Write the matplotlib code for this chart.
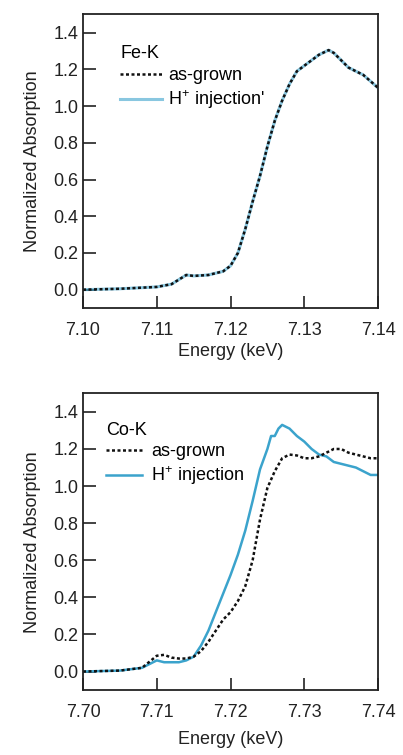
import numpy as np
import matplotlib
matplotlib.use("Agg")
import matplotlib.pyplot as plt

plt.rcParams['font.family'] = ['Liberation Sans', 'DejaVu Sans']
plt.rcParams['mathtext.fontset'] = 'custom'
plt.rcParams['mathtext.rm'] = 'Liberation Sans'

# ---- Fe-K edge (both curves overlap) ----
fe_energy = [7.100, 7.105, 7.110, 7.112, 7.114, 7.115, 7.117, 7.119, 7.120,
             7.121, 7.122, 7.123, 7.124, 7.125, 7.126, 7.127, 7.128, 7.129,
             7.130, 7.131, 7.132, 7.1333, 7.134, 7.135, 7.136, 7.138, 7.140]
fe_grown = [0.00, 0.005, 0.015, 0.03, 0.08, 0.075, 0.08, 0.10, 0.13,
            0.20, 0.33, 0.48, 0.62, 0.78, 0.92, 1.03, 1.12, 1.19,
            1.22, 1.25, 1.28, 1.305, 1.29, 1.25, 1.21, 1.17, 1.10]
fe_inject = [0.00, 0.005, 0.015, 0.03, 0.08, 0.075, 0.08, 0.10, 0.13,
             0.20, 0.33, 0.48, 0.62, 0.78, 0.92, 1.03, 1.12, 1.19,
             1.22, 1.25, 1.28, 1.305, 1.29, 1.25, 1.21, 1.17, 1.10]

# ---- Co-K edge ----
co_energy_inj = [7.700, 7.705, 7.708, 7.710, 7.711, 7.713, 7.714, 7.715, 7.716,
                 7.717, 7.718, 7.719, 7.720, 7.721, 7.722, 7.723, 7.724, 7.725,
                 7.7255, 7.726, 7.7265, 7.727, 7.728, 7.729, 7.730, 7.731, 7.732,
                 7.733, 7.734, 7.735, 7.736, 7.737, 7.738, 7.739, 7.740]
co_inject = [0.00, 0.005, 0.02, 0.06, 0.05, 0.05, 0.06, 0.08, 0.14,
             0.22, 0.32, 0.42, 0.52, 0.63, 0.76, 0.92, 1.09, 1.20,
             1.27, 1.27, 1.31, 1.33, 1.31, 1.27, 1.24, 1.20, 1.17,
             1.16, 1.13, 1.12, 1.11, 1.10, 1.08, 1.06, 1.06]

co_energy_grown = [7.700, 7.705, 7.708, 7.710, 7.711, 7.712, 7.713, 7.714, 7.715,
                   7.716, 7.717, 7.718, 7.719, 7.720, 7.721, 7.722, 7.723, 7.724,
                   7.725, 7.726, 7.727, 7.728, 7.729, 7.730, 7.731, 7.732, 7.733,
                   7.734, 7.735, 7.736, 7.737, 7.738, 7.739, 7.740]
co_grown = [0.00, 0.005, 0.02, 0.085, 0.09, 0.075, 0.07, 0.07, 0.08,
            0.11, 0.16, 0.22, 0.28, 0.32, 0.38, 0.46, 0.60, 0.82,
            0.99, 1.08, 1.15, 1.17, 1.165, 1.15, 1.15, 1.16, 1.18,
            1.20, 1.20, 1.18, 1.17, 1.16, 1.15, 1.15]

BLUE = '#3ba3cc'
FS = 13

fig = plt.figure(figsize=(4.03, 7.55), dpi=100)
ax1 = fig.add_axes([0.206, 0.592, 0.732, 0.389])
ax2 = fig.add_axes([0.206, 0.086, 0.732, 0.393])


def style_axis(ax, xlim, xticks, xticklabels, xlabelpad):
    ax.set_xlim(*xlim)
    ax.set_ylim(-0.1, 1.5)
    ax.set_xticks(xticks)
    ax.set_xticklabels(xticklabels)
    ax.set_yticks(np.arange(0, 1.41, 0.2))
    ax.set_yticklabels(['0.0', '0.2', '0.4', '0.6', '0.8', '1.0', '1.2', '1.4'])
    ax.tick_params(direction='in', length=9, width=1.2, labelsize=FS, colors='#222222')
    ax.tick_params(axis='x', pad=10)
    ax.tick_params(axis='y', pad=3.5)
    for s in ax.spines.values():
        s.set_linewidth(1.3)
        s.set_color('#222222')
    ax.set_xlabel('Energy (keV)', fontsize=FS, color='#222222', labelpad=xlabelpad)
    ax.set_ylabel('Normalized Absorption', fontsize=FS, color='#222222', labelpad=9)


# top panel
ax1.plot(fe_energy, fe_inject, color=BLUE, lw=2.2, alpha=0.6, label="H$^{+}$ injection'")
ax1.plot(fe_energy, fe_grown, color='#111111', lw=1.8, ls=(0, (1.2, 1.0)), label='as-grown')
style_axis(ax1, (7.10, 7.14), [7.10, 7.11, 7.12, 7.13, 7.14],
           ['7.10', '7.11', '7.12', '7.13', '7.14'], 3)
h, l = ax1.get_legend_handles_labels()
ax1.legend([h[1], h[0]], [l[1], l[0]], title='Fe-K', loc='upper left',
           bbox_to_anchor=(0.095, 0.925), frameon=False, fontsize=FS,
           title_fontsize=FS, alignment='left', handlelength=2.3,
           handletextpad=0.35, labelspacing=0.25, borderpad=0)

# bottom panel
ax2.plot(co_energy_inj, co_inject, color=BLUE, lw=1.8, label='H$^{+}$ injection')
ax2.plot(co_energy_grown, co_grown, color='#111111', lw=1.8, ls=(0, (1.2, 1.0)), label='as-grown')
style_axis(ax2, (7.70, 7.74), [7.70, 7.71, 7.72, 7.73, 7.74],
           ['7.70', '7.71', '7.72', '7.73', '7.74'], 7)
h, l = ax2.get_legend_handles_labels()
ax2.legend([h[1], h[0]], [l[1], l[0]], title='Co-K', loc='upper left',
           bbox_to_anchor=(0.048, 0.935), frameon=False, fontsize=FS,
           title_fontsize=FS, alignment='left', handlelength=2.0,
           handletextpad=0.5, labelspacing=0.25, borderpad=0)

fig.savefig('out.png', dpi=100)
